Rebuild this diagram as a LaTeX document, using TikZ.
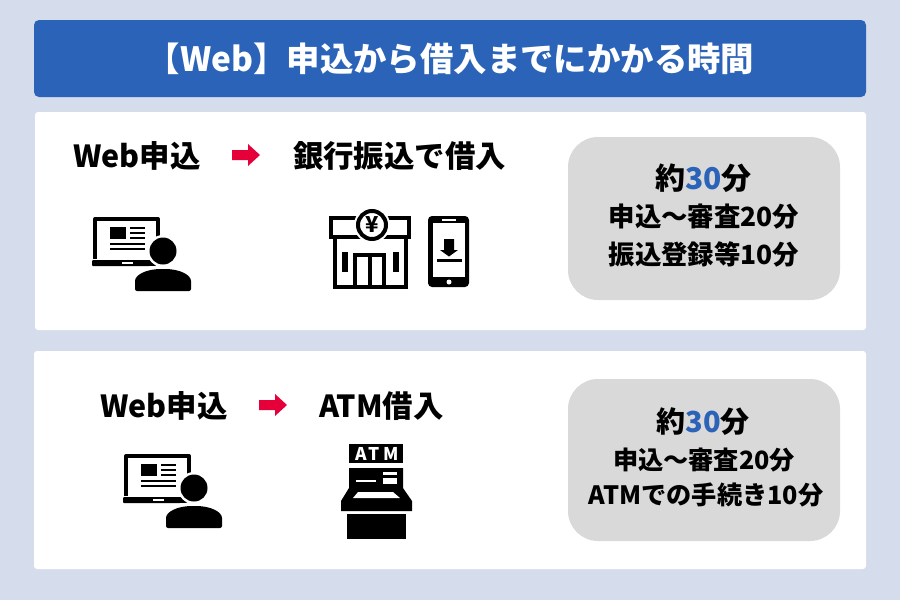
\documentclass[tikz,border=0pt]{standalone}
\usepackage{fontspec}
\usepackage{xcolor}
\setmainfont{Noto Sans CJK JP}
\usetikzlibrary{calc}
\definecolor{pagebg}{HTML}{D5DCEC}
\definecolor{blue30}{HTML}{2B63B8}
\definecolor{greybox}{HTML}{D9D9D9}
\definecolor{redArrow}{HTML}{E60039}
\tikzset{
  titleBar/.style={fill=blue30, rounded corners=5pt},
  panel/.style={fill=white, rounded corners=3pt},
  timeBox/.style={fill=greybox, rounded corners=30pt},
  headLbl/.style={text=black, font=\fontsize{30.4}{34}\selectfont\bfseries, inner sep=0pt},
  bigLbl/.style={text=black, font=\fontsize{30}{34}\selectfont\bfseries, inner sep=0pt},
  bigLblB/.style={text=black, font=\fontsize{29}{33}\selectfont\bfseries, inner sep=0pt},
  smallLbl/.style={text=black, font=\fontsize{26.4}{30}\selectfont\bfseries, inner sep=0pt},
  smallerLbl/.style={text=black, font=\fontsize{25.2}{29}\selectfont\bfseries, inner sep=0pt},
  titleLbl/.style={text=white, font=\fontsize{33.4}{38}\selectfont\bfseries, inner sep=0pt},
  ink/.style={fill=black, draw=none},
  cut/.style={fill=white, draw=none},
}
\newcommand{\RedArrow}{%
  \fill[redArrow] (232,150)--(248,150)--(248,144)--(260,155)--(248,166)--(248,160)--(232,160)--cycle;
}
\newcommand{\LaptopUser}{%
  \draw[line width=4pt, line join=round] (95,259)--(95,219)--(158,219)--(158,259);
  \fill[ink, rounded corners=1pt] (92,260)--(156,260)--(156,266)--(92,266)--cycle;
  \fill[cut] (122,262) rectangle (133,264);
  \fill[ink] (110,227) rectangle (126,239);
  \foreach \ly in {227,232,237} {\fill[ink] (130,\ly) rectangle (145,\ly+2.2);}
  \foreach \ly in {243,248} {\fill[ink] (110,\ly) rectangle (145,\ly+2.4);}
  \fill[cut] (163,251) circle (16);
  \fill[ink] (163,251) circle (13.5);
  \fill[cut] (131,293) -- (131,276) -- (150,266) -- (176,266) -- (195,276) -- (195,293) -- cycle;
  \fill[ink, rounded corners=2pt] (135,291) -- (135,283) .. controls (135,275) and (146,269) .. (163,269)
    .. controls (180,269) and (191,275) .. (191,283) -- (191,291) -- cycle;
}
\newcommand{\BankIcon}{%
  \draw[line width=4pt] (331,218) rectangle (409,237);
  \draw[line width=4pt] (335,239) -- (335,287) -- (406,287) -- (406,239);
  \fill[cut] (372,225) circle (18);
  \draw[line width=4pt, fill=white] (372,225) circle (14);
  \node (yenMark) at (372,225) {\fontsize{22}{22}\selectfont\bfseries ¥};
  \draw[line width=4pt] (355,287) -- (355,255) -- (384,255) -- (384,287);
  \draw[line width=4pt] (369.5,255) -- (369.5,287);
  \fill[ink] (342,252) rectangle (347.5,272);
  \fill[ink] (393,252) rectangle (399,272);
}
\newcommand{\PhoneIcon}{%
  \fill[ink, rounded corners=4pt] (428,216) rectangle (469,287);
  \fill[cut] (433,223) rectangle (465,277);
  \fill[cut] (442,218.5) rectangle (456,220.5);
  \fill[cut] (449,282) circle (2.5);
  \fill[ink] (444,239) -- (454,239) -- (454,250) -- (458,250) -- (449,256.5) -- (440,250) -- (444,250) -- cycle;
  \fill[ink] (437,259) rectangle (462,262);
}
\newcommand{\AtmIcon}{%
  \fill[ink] (349,444) rectangle (403,463);
  \node (atmMark) at (377,453.5) {\fontsize{17.5}{17.5}\selectfont\bfseries\addfontfeature{LetterSpace=18}\color{white}ATM};
  \fill[ink] (349,468) -- (403,468) -- (403,488) -- (412,501) -- (412,511) -- (341,511) -- (341,501) -- (349,488) -- cycle;
  \fill[cut] (356,479.5) rectangle (376,481.5);
  \fill[cut] (383,472) rectangle (397,475);
  \fill[cut] (383,478) rectangle (397,484);
  \fill[cut] (358,492) -- (393,492) -- (400,498) -- (353,498) -- cycle;
  \fill[ink] (347,514) rectangle (406,539);
}
\begin{document}
\begin{tikzpicture}[x=1pt, y=-1pt]
  \useasboundingbox (0,0) rectangle (900,600);
  \fill[pagebg] (0,0) rectangle (900,600);

  \fill[titleBar] (34,20) rectangle (866,97);
  \fill[panel] (35,112) rectangle (866,330);
  \fill[panel] (34,351) rectangle (866,569);
  \fill[timeBox] (568,137) rectangle (840,300);
  \fill[timeBox] (568,379) rectangle (840,541);

  \node[titleLbl] (title) at (450.5,59) {【Web】申込から借入までにかかる時間};

  % upper panel
  \node[headLbl] (webA) at (137,156) {Web申込};
  \node[headLbl] (bankLbl) at (399.5,156) {銀行振込で借入};
  \RedArrow
  \LaptopUser
  \BankIcon
  \PhoneIcon
  \node[bigLbl] (timeA) at (703.5,178) {約\textcolor{blue30}{30}分};
  \node[smallLbl] (stepAa) at (704,217) {申込～審査20分};
  \node[smallLbl] (stepAb) at (704,254) {振込登録等10分};

  % lower panel
  \node[headLbl] (webB) at (164,406) {Web申込};
  \node[headLbl] (atmLbl) at (381.5,406) {ATM借入};
  \begin{scope}[shift={(27,250)}]
    \RedArrow
  \end{scope}
  \begin{scope}[shift={(31,237)}]
    \LaptopUser
  \end{scope}
  \AtmIcon
  \node[bigLblB] (timeB) at (703,422) {約\textcolor{blue30}{30}分};
  \node[smallerLbl] (stepBa) at (704,460) {申込～審査20分};
  \node[smallerLbl] (stepBb) at (706,495) {ATMでの手続き10分};
\end{tikzpicture}
\end{document}
